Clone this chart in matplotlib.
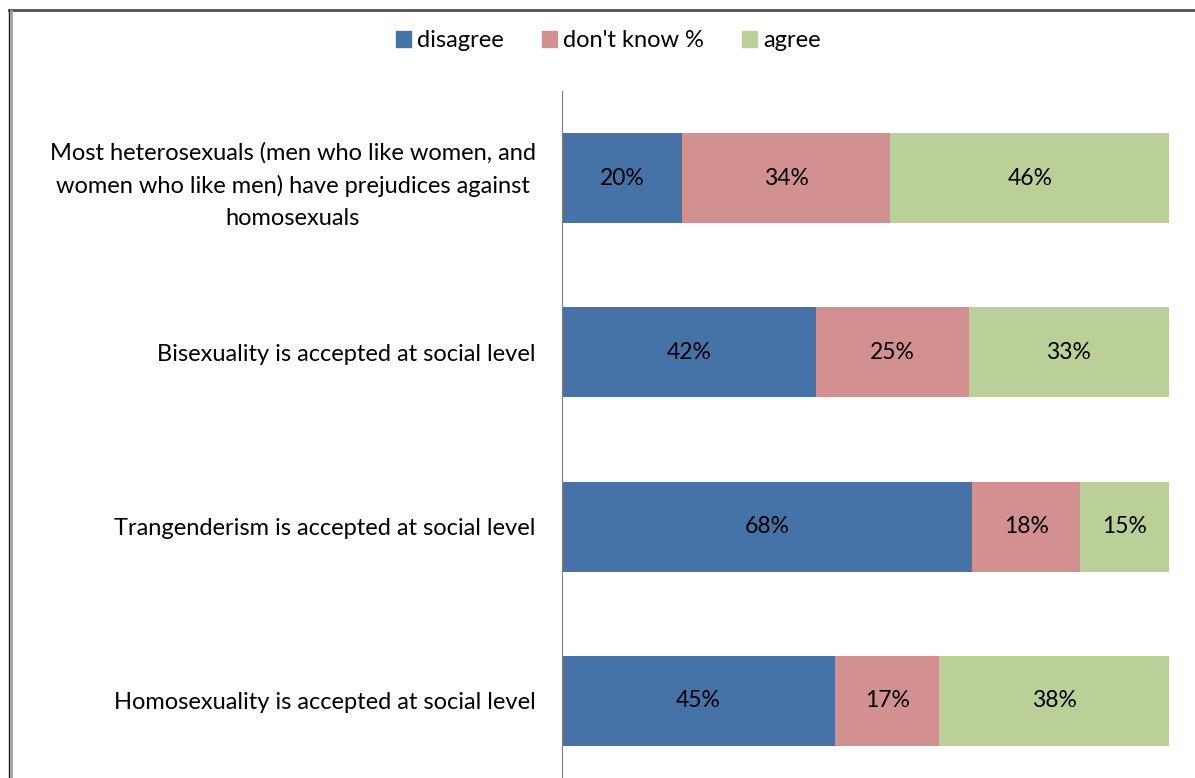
import matplotlib.pyplot as plt
from matplotlib.lines import Line2D

categories = [
    "Homosexuality is accepted at social level",
    "Trangenderism is accepted at social level",
    "Bisexuality is accepted at social level",
    "Most heterosexuals (men who like women, and\nwomen who like men) have prejudices against\nhomosexuals",
]
disagree = [45.0, 67.6, 41.8, 19.8]
dont_know = [17.1, 17.8, 25.2, 34.3]
agree = [37.9, 14.6, 33.0, 45.9]
series_names = ["disagree", "don't know %", "agree"]
colors = ["#4572A7", "#D29091", "#BBCF98"]

plt.rcParams['font.family'] = ['Lato', 'DejaVu Sans']

fig = plt.figure(figsize=(11.95, 7.78), dpi=100)
ax = fig.add_axes([0.4703, -0.0129, 0.508, 0.896])

y = range(len(categories))
left = [0] * len(categories)
for name, vals, col in zip(series_names, [disagree, dont_know, agree], colors):
    bars = ax.barh(y, vals, left=left, height=0.515, color=col, label=name)
    for b, v in zip(bars, vals):
        ax.text(b.get_x() + b.get_width() / 2, b.get_y() + b.get_height() / 2,
                f"{round(v):.0f}%", ha='center', va='center', fontsize=16.5)
    left = [l + v for l, v in zip(left, vals)]

ax.set_xlim(0, 100)
ax.set_ylim(-0.5, 3.5)
ax.set_yticks(list(y))
ax.set_yticklabels(categories, fontsize=17, linespacing=1.65,
                   multialignment='center')
ax.tick_params(axis='y', length=0, pad=19)
ax.set_xticks([])
for s in ['top', 'right', 'bottom']:
    ax.spines[s].set_visible(False)
ax.spines['left'].set_color('#808080')

handles = [plt.Rectangle((0, 0), 1, 1, color=c) for c in colors]
fig.legend(handles, series_names, loc='center', bbox_to_anchor=(0.509, 0.948),
           ncol=3, frameon=False, fontsize=17, handlelength=0.65,
           handleheight=0.65, handletextpad=0.25, columnspacing=1.6)

# outer chart frame (top and left edges visible)
fig.add_artist(Line2D([0.0075, 1], [0.9875, 0.9875], transform=fig.transFigure,
                      color='#505050', lw=2))
fig.add_artist(Line2D([0.0075, 0.0075], [0, 0.9875], transform=fig.transFigure,
                      color='#202020', lw=1))
fig.add_artist(Line2D([0.0095, 0.0095], [0, 0.986], transform=fig.transFigure,
                      color='#a0a0a0', lw=2))

fig.savefig("out.png", dpi=100)
